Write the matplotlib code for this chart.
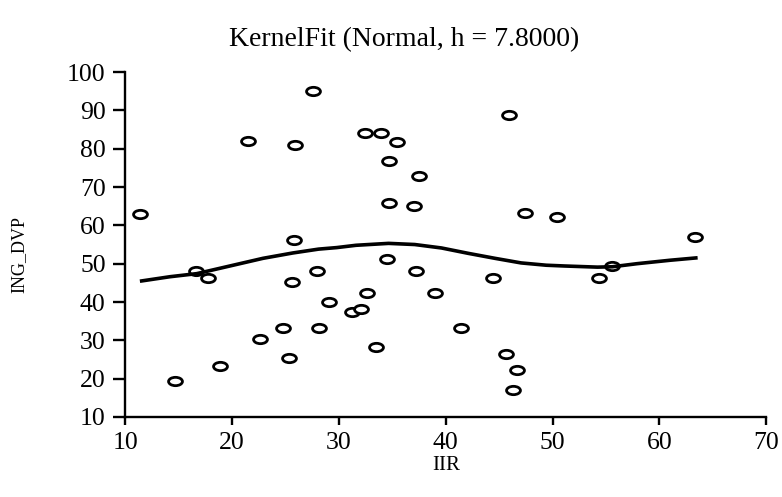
import numpy as np
import matplotlib
matplotlib.use('Agg')
import matplotlib.pyplot as plt
from matplotlib.path import Path
from matplotlib.transforms import Affine2D

# Точки данных (IIR, ING_DVP)
iir = [11.4, 14.65, 16.6, 17.8, 18.9, 21.5, 22.65, 24.8, 25.3, 25.6, 25.8, 25.9,
       27.6, 28.0, 28.1, 29.1, 31.2, 32.1, 32.4, 32.6, 33.5, 33.9, 34.5, 34.7,
       34.7, 35.4, 37.0, 37.2, 37.5, 39.0, 41.4, 44.4, 45.6, 45.9, 46.3, 46.7,
       47.4, 50.4, 54.3, 55.6, 63.3]
ing_dvp = [63, 19.4, 48.1, 46.3, 23.3, 82, 30.3, 33.3, 25.3, 45.2, 56.1, 81,
           95, 48.1, 33.3, 40.1, 37.3, 38.1, 84, 42.3, 28.3, 84, 51.2, 76.8,
           65.9, 81.7, 65.1, 48.1, 72.8, 42.3, 33.3, 46.2, 26.4, 88.8, 17.1, 22.2,
           63.1, 62.1, 46.2, 49.3, 57]

# Кривая KernelFit
fit_x = [11.55, 14.2, 16.7, 19.8, 22.9, 25.7, 28.1, 29.8, 31.6, 34.65, 37.1,
         39.6, 42.1, 44.6, 47.05, 49.4, 51.1, 54.2, 55.6, 57.9, 61.0, 63.4]
fit_y = [45.5, 46.6, 47.4, 49.4, 51.4, 52.8, 53.8, 54.2, 54.8, 55.3, 55.0,
         54.1, 52.7, 51.4, 50.2, 49.6, 49.4, 49.1, 49.2, 50.0, 50.9, 51.5]

x_ticks = [10, 20, 30, 40, 50, 60, 70]
y_ticks = [10, 20, 30, 40, 50, 60, 70, 80, 90, 100]

plt.rcParams['font.family'] = ['Liberation Serif', 'DejaVu Serif']

# Маркер - овал
ellipse = Path.unit_circle().transformed(Affine2D().scale(1.0, 0.6))

fig = plt.figure(figsize=(7.82, 4.97), dpi=100)
ax = fig.add_axes([0.160, 0.161, 0.820, 0.694])

ax.plot(iir, ing_dvp, linestyle='none', marker=ellipse, markersize=10,
        markerfacecolor='white', markeredgecolor='black', markeredgewidth=2.0)
ax.plot(fit_x, fit_y, color='black', linewidth=2.6)

ax.set_xlim(10, 70)
ax.set_ylim(10, 100)
ax.set_xticks(x_ticks)
ax.set_yticks(y_ticks)

for s in ['top', 'right']:
    ax.spines[s].set_visible(False)
for s in ['left', 'bottom']:
    ax.spines[s].set_linewidth(1.7)

ax.tick_params(axis='y', length=9, width=1.7, labelsize=18.5, pad=5)
ax.tick_params(axis='x', length=6, width=1.7, labelsize=18.5, pad=5)

ax.set_title('KernelFit (Normal, h = 7.8000)', fontsize=20, pad=19, x=0.435)
ax.set_xlabel('IIR', fontsize=15, labelpad=1)
ax.set_ylabel('ING_DVP', fontsize=13)
ax.yaxis.set_label_coords(-0.152, 0.47)

fig.savefig('out.png', dpi=100)
